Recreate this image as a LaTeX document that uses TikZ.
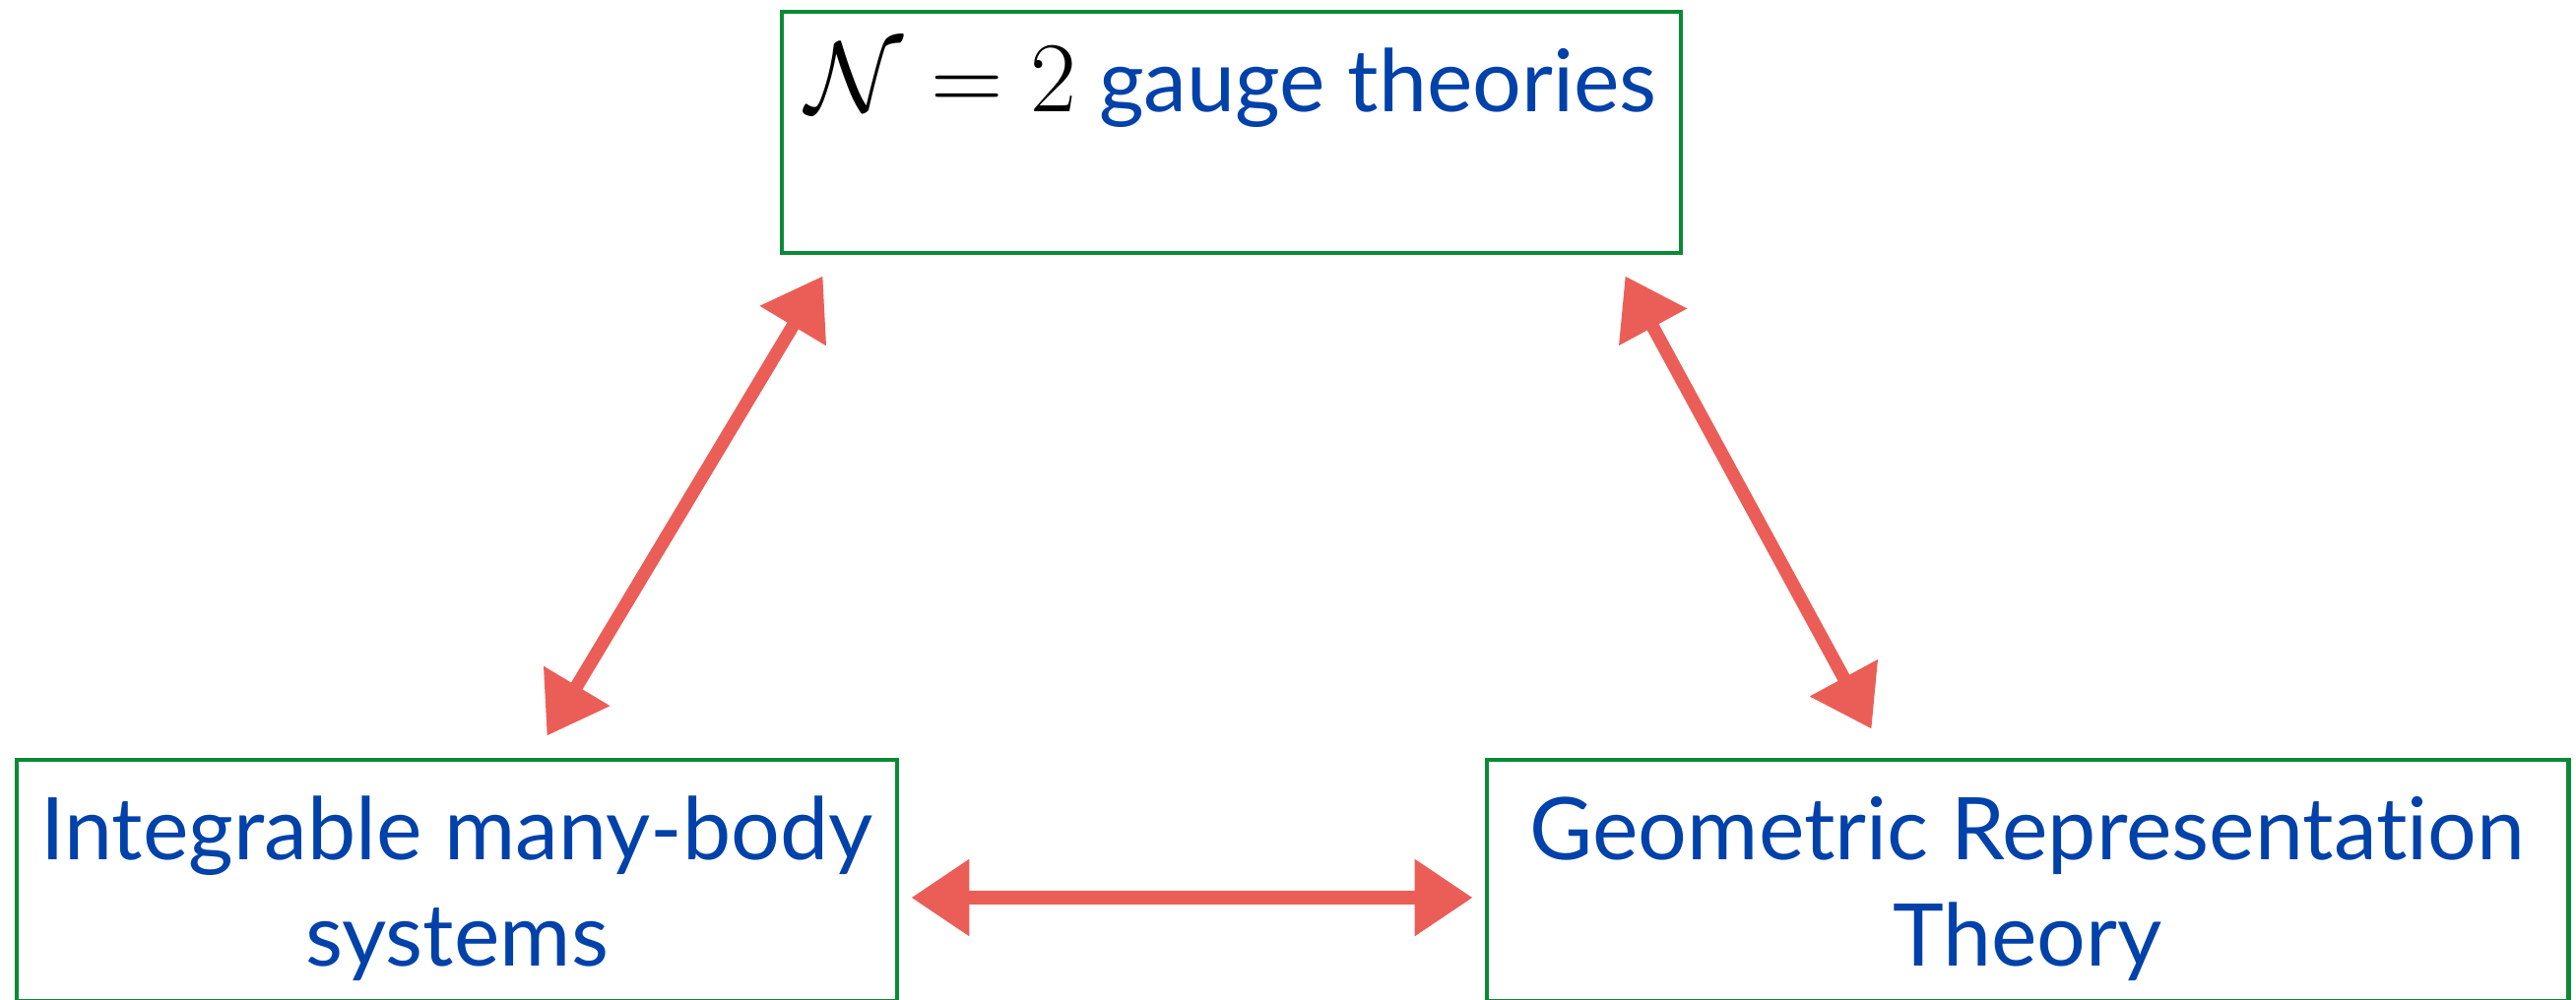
\documentclass[tikz,border=0pt]{standalone}
\usepackage{fix-cm}
\usepackage{fontspec}
\setmainfont{Lato}[Ligatures=NoCommon]
\usetikzlibrary{calc, arrows.meta}

\begin{document}
\begin{tikzpicture}[
    box/.style={draw=borderColour, line width=1.4pt, inner sep=0pt, align=center,
      text=textColour, font=\fontsize{25}{30.7}\selectfont,
      text height=2.09cm, text depth=0.36cm},
    twoway/.style={draw=arrowColour, line width=3.8pt,
      arrows={Triangle[length=5.9mm, width=7.5mm]-Triangle[length=5.9mm, width=7.5mm]}}
  ]
    % Define colours
    \definecolor{borderColour}{HTML}{0B8A36}
    \definecolor{textColour}{HTML}{0041AA}
    \definecolor{arrowColour}{HTML}{EB5E57}

  \useasboundingbox (0,0) rectangle (26.16,10.15);

  % The three boxes
  \node[box, minimum width=9.13cm] (gauge) at (12.505,8.805)
    {{\fontsize{29}{30.7}\selectfont\textcolor{black}{$\mathcal{N}=2$}} gauge theories\\ \mbox{}};
  \node[box, minimum width=8.94cm] (integ) at (4.64,1.205)
    {Integrable many-body\\ systems};
  \node[box, minimum width=10.98cm] (geom) at (20.59,1.205)
    {Geometric Representation\\ Theory};

  % Ends of the arrows
  \coordinate (gaugeL) at ($(gauge.south west)+(0.44,-0.21)$);
  \coordinate (gaugeR) at ($(gauge.south east)+(-0.59,-0.21)$);
  \coordinate (integT) at ($(integ.north east)+(-3.58,0.22)$);
  \coordinate (integR) at ($(integ.east)+(0.12,-0.175)$);
  \coordinate (geomT) at ($(geom.north west)+(3.93,0.29)$);
  \coordinate (geomL) at ($(geom.west)+(-0.12,-0.175)$);

  % Draw the arrows
  \draw[twoway] (gaugeL) -- (integT);
  \draw[twoway] (gaugeR) -- (geomT);
  \draw[twoway] (integR) -- (geomL);

\end{tikzpicture}
\end{document}
